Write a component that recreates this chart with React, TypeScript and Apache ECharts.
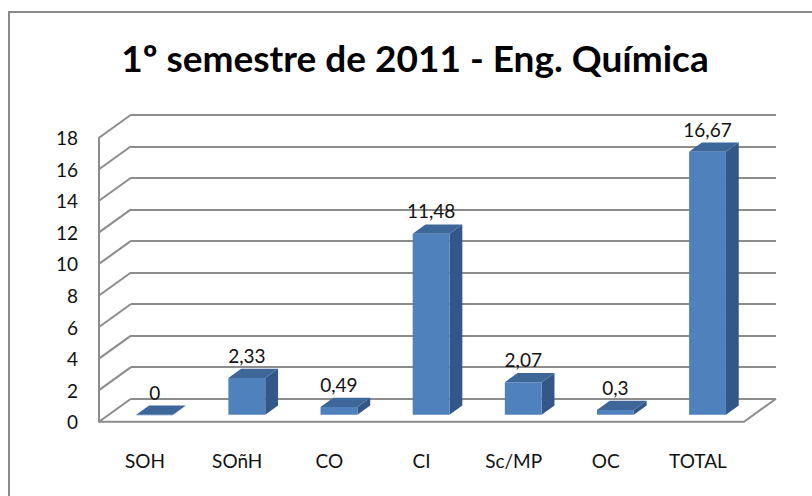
import React, { useEffect, useRef } from "react";
import * as echarts from "echarts";

const categories = ["SOH", "SOñH", "CO", "CI", "Sc/MP", "OC", "TOTAL"];
const values = [0, 2.33, 0.49, 11.48, 2.07, 0.3, 16.67];
const yTicks = [0, 2, 4, 6, 8, 10, 12, 14, 16, 18];
const titleText = "1º semestre de 2011 - Eng. Química";

const DX = 32;
const DY = -23;
const FONT = "Lato, 'Open Sans', sans-serif";
const GRID_COLOR = "#8c8c8c";

export default function App() {
  const ref = useRef<HTMLDivElement>(null);
  useEffect(() => {
    if (!ref.current) return;
    const chart = echarts.init(ref.current, null, { renderer: "svg" });
    const option: any = {
      animation: false,
      backgroundColor: "#ffffff",
      graphic: [
        {
          type: "rect",
          shape: { x: 9, y: 12, width: 900, height: 600 },
          style: { fill: "none", stroke: "#8a8a8a", lineWidth: 2 },
          silent: true,
          z: 0,
        },
        {
          type: "text",
          x: 415,
          y: 57,
          style: {
            text: titleText,
            font: `bold 37px ${FONT}`,
            fill: "#000",
            textAlign: "center",
            textVerticalAlign: "middle",
          },
        },
      ],
      grid: [
        { left: 99, right: 68, top: 137.7, bottom: 74.3 },
        { left: 99 + DX, right: 68 - DX, top: 137.7 + DY, bottom: 74.3 - DY },
      ],
      xAxis: [
        {
          type: "category",
          gridIndex: 0,
          data: categories,
          axisLine: { show: false },
          axisTick: { show: false },
          axisLabel: { fontFamily: FONT, fontSize: 19, color: "#111", margin: 29 },
        },
        {
          type: "category",
          gridIndex: 1,
          data: categories,
          show: false,
        },
      ],
      yAxis: [
        {
          type: "value",
          gridIndex: 0,
          min: 0,
          max: 18,
          interval: 2,
          axisLine: { show: true, lineStyle: { color: GRID_COLOR, width: 2 } },
          axisTick: { show: false },
          splitLine: { show: false },
          axisLabel: { fontFamily: FONT, fontSize: 19, color: "#111", margin: 21 },
        },
        {
          type: "value",
          gridIndex: 1,
          min: 0,
          max: 18,
          interval: 2,
          axisLine: { show: false },
          axisTick: { show: false },
          axisLabel: { show: false },
          splitLine: { show: true, lineStyle: { color: GRID_COLOR, width: 2 } },
        },
      ],
      series: [
        {
          type: "custom",
          xAxisIndex: 0,
          yAxisIndex: 0,
          silent: true,
          data: yTicks.map((v) => [0, v]),
          renderItem: (params: any, api: any) => {
            const p = api.coord([0, api.value(1)]);
            const x0 = params.coordSys.x;
            return {
              type: "line",
              shape: { x1: x0, y1: p[1], x2: x0 + DX, y2: p[1] + DY },
              style: { stroke: GRID_COLOR, lineWidth: 2 },
            };
          },
          z: 1,
        },
        {
          type: "custom",
          xAxisIndex: 0,
          yAxisIndex: 0,
          silent: true,
          data: [[0, 0]],
          renderItem: (params: any, api: any) => {
            const p = api.coord([0, 0]);
            const cs = params.coordSys;
            const x0 = cs.x;
            const x1 = cs.x + cs.width;
            return {
              type: "polyline",
              shape: {
                points: [
                  [x0, p[1]],
                  [x1, p[1]],
                  [x1 + DX, p[1] + DY],
                ],
              },
              style: { stroke: GRID_COLOR, lineWidth: 2, fill: "none" },
            };
          },
          z: 1,
        },
        {
          type: "custom",
          xAxisIndex: 0,
          yAxisIndex: 0,
          data: values.map((v, i) => [i, v]),
          renderItem: (params: any, api: any) => {
            const i = api.value(0);
            const v = api.value(1);
            const base = api.coord([i, 0]);
            const top = api.coord([i, v]);
            const bw = api.size([1, 0])[0];
            const fw = bw * 0.4;
            const cx = base[0] + 0.3 * DX;
            const yb = base[1] + 0.3 * DY;
            const yt = top[1] + 0.3 * DY;
            const x1 = cx - fw / 2;
            const x2 = cx + fw / 2;
            const dx = 0.4 * DX;
            const dy = 0.4 * DY;
            const label = String(v).replace(".", ",");
            return {
              type: "group",
              children: [
                {
                  type: "polygon",
                  shape: { points: [[x2, yt], [x2 + dx, yt + dy], [x2 + dx, yb + dy], [x2, yb]] },
                  style: { fill: "#34578a" },
                },
                {
                  type: "polygon",
                  shape: { points: [[x1, yt], [x2, yt], [x2 + dx, yt + dy], [x1 + dx, yt + dy]] },
                  style: { fill: "#3d6699" },
                },
                {
                  type: "rect",
                  shape: { x: x1, y: yt, width: fw, height: Math.max(yb - yt, 0.5) },
                  style: { fill: "#4f81bd" },
                },
                {
                  type: "text",
                  x: cx,
                  y: yt + dy - 4,
                  style: {
                    text: label,
                    font: `19px ${FONT}`,
                    fill: "#111",
                    textAlign: "center",
                    textVerticalAlign: "bottom",
                  },
                },
              ],
            };
          },
          z: 3,
        },
      ],
    };
    chart.setOption(option);
    return () => chart.dispose();
  }, []);
  return (
    <div
      ref={ref}
      style={{ position: "fixed", left: 0, top: 0, width: 812, height: 496 }}
    />
  );
}
